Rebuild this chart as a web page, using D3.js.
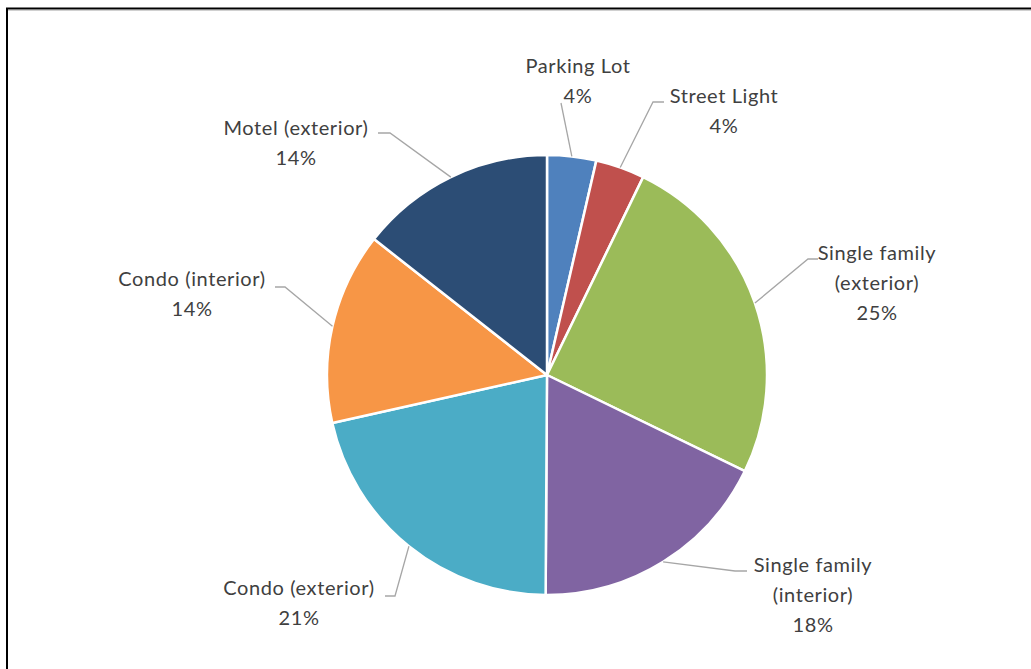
<!DOCTYPE html>
<html>
<head>
<meta charset="utf-8">
<title>Pie chart</title>
<style>
  body { margin: 0; background: #fff; }
  svg { display: block; }
  .lbl { font-family: Lato, "Open Sans", sans-serif; font-size: 20px; letter-spacing: 0.6px; fill: #404040; }
</style>
</head>
<body>
<svg width="1031" height="669"></svg>
<script src="https://d3js.org/d3.v7.min.js"></script>
<script>
// data (share of total, %)
var categories = ["Parking Lot", "Street Light", "Single family (exterior)", "Single family (interior)",
                  "Condo (exterior)", "Condo (interior)", "Motel (exterior)"];
var values = [3.6, 3.6, 25.0, 17.9, 21.4, 14.1, 14.4];
var colors = ["#4F81BD", "#C0504D", "#9BBB59", "#8064A2", "#4BACC6", "#F79646", "#2C4D75"];

var svg = d3.select("svg"),
    cx = 547, cy = 375, radius = 220;

// frame (only top and left edges show in the capture)
svg.append("line").attr("x1", 6).attr("x2", 1031).attr("y1", 10.5).attr("y2", 10.5)
    .attr("stroke", "#d0d0d0").attr("stroke-width", 1);
svg.append("path").attr("d", "M7,669V8.5H1031")
    .attr("fill", "none").attr("stroke", "#000").attr("stroke-width", 2);

var total = d3.sum(values);
var pie = d3.pie().sort(null).value(function(d) { return d; });
var arcs = pie(values);
var arc = d3.arc().innerRadius(0).outerRadius(radius);

var g = svg.append("g").attr("transform", "translate(" + cx + "," + cy + ")");

g.selectAll("path.slice")
  .data(arcs)
  .enter().append("path")
    .attr("class", "slice")
    .attr("d", arc)
    .attr("fill", function(d, i) { return colors[i]; })
    .attr("stroke", "#fff")
    .attr("stroke-width", 2.5)
    .attr("stroke-linejoin", "round");

// label layout: text centre x, first line y, leader end point, stub direction
var layout = [
  { x: 578, y: 66,  lines: ["Parking Lot"], end: [561, 103], stub: 0 },
  { x: 724, y: 96,  lines: ["Street Light"], end: [664, 102], stub: -11 },
  { x: 877, y: 253, lines: ["Single family", "(exterior)"], end: [818, 259], stub: -10 },
  { x: 813, y: 565, lines: ["Single family", "(interior)"], end: [747, 571], stub: -12 },
  { x: 299, y: 588, lines: ["Condo (exterior)"], end: [385, 596], stub: 10 },
  { x: 192, y: 279, lines: ["Condo (interior)"], end: [275, 287], stub: 10 },
  { x: 296, y: 128, lines: ["Motel (exterior)"], end: [378, 133], stub: 12 }
];

var lh = 30;

arcs.forEach(function(a, i) {
  var L = layout[i];
  var mid = (a.startAngle + a.endAngle) / 2;
  var px = cx + radius * Math.sin(mid), py = cy - radius * Math.cos(mid);
  var pts = [[px, py]];
  if (L.stub) pts.push([L.end[0] + L.stub, L.end[1]]);
  pts.push(L.end);
  svg.append("path")
    .attr("d", d3.line()(pts))
    .attr("fill", "none")
    .attr("stroke", "#A6A6A6")
    .attr("stroke-width", 1.3);

  var t = svg.append("text").attr("class", "lbl").attr("text-anchor", "middle");
  var texts = L.lines.concat([Math.round(a.value / total * 100) + "%"]);
  texts.forEach(function(s, k) {
    t.append("tspan")
      .attr("x", L.x)
      .attr("y", L.y + k * lh)
      .attr("dy", "0.35em")
      .text(s);
  });
});
</script>
</body>
</html>
